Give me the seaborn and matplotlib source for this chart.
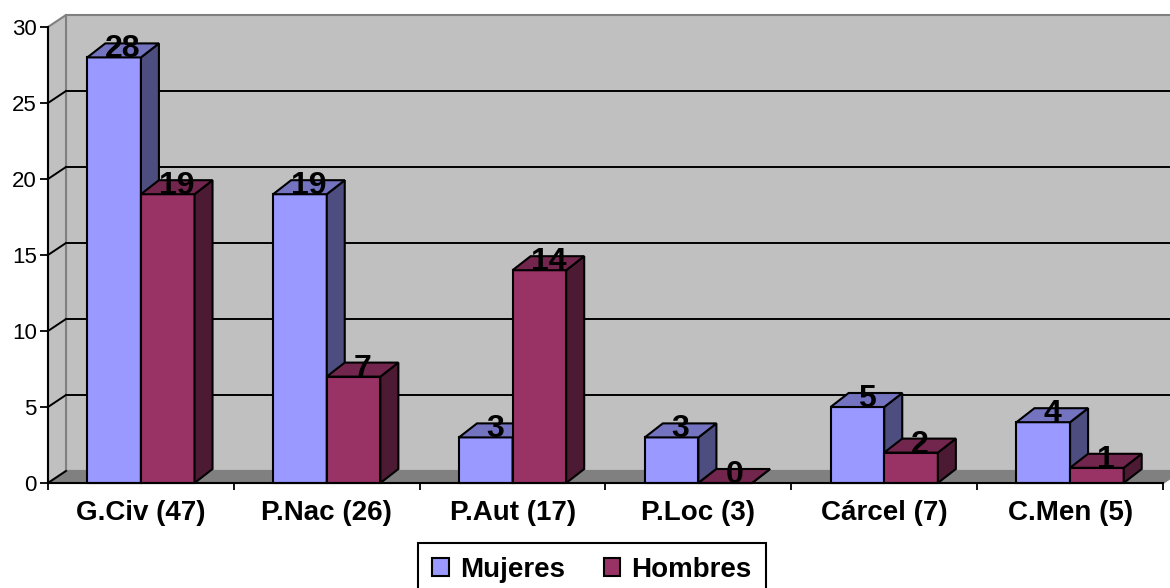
import pandas as pd
import seaborn as sns
import matplotlib.pyplot as plt
from matplotlib.patches import Polygon

# datos del grafico
categorias = ['G.Civ (47)', 'P.Nac (26)', 'P.Aut (17)', 'P.Loc (3)', 'Cárcel (7)', 'C.Men (5)']
mujeres = [28, 19, 3, 3, 5, 4]
hombres = [19, 7, 14, 0, 2, 1]
series = ['Mujeres', 'Hombres']
ticks_y = [0, 5, 10, 15, 20, 25, 30]

plt.rcParams['font.family'] = ['Liberation Sans', 'DejaVu Sans']

df = pd.DataFrame({
    'cat': categorias * 2,
    'valor': mujeres + hombres,
    'sexo': ['Mujeres'] * len(categorias) + ['Hombres'] * len(categorias),
})

colores = {'Mujeres': '#9999FF', 'Hombres': '#993366'}
lados = {'Mujeres': '#4D4D80', 'Hombres': '#4D1A33'}
techos = {'Mujeres': '#7373C0', 'Hombres': '#73264D'}

fig = plt.figure(figsize=(11.7, 5.88), dpi=100)
ax = fig.add_axes([48 / 1170, 105 / 588, 1115 / 1170, 456 / 588])
ax.set_xlim(-0.5, 5.5)
ax.set_ylim(0, 30)
ax.patch.set_visible(False)

# profundidad en unidades de datos (desde pixeles)
px_x = 6 / 1115
px_y = 30 / 456
ddx, ddy = 18 * px_x, 12 * px_y      # paredes
bdx, bdy = 18 * px_x, 14 * px_y      # barras

# pared del fondo, pared izquierda y suelo
pared = Polygon([(-0.5 + ddx, ddy), (5.5 + ddx, ddy), (5.5 + ddx, 30 + ddy), (-0.5 + ddx, 30 + ddy)],
                closed=True, fc='#C0C0C0', ec='#808080', lw=1.5, clip_on=False, zorder=0)
ax.add_patch(pared)
izq = Polygon([(-0.5, 0), (-0.5, 30), (-0.5 + ddx, 30 + ddy), (-0.5 + ddx, ddy)],
              closed=True, fc='#C0C0C0', ec='#808080', lw=1.5, clip_on=False, zorder=0.5)
ax.add_patch(izq)
suelo = Polygon([(-0.5, 0), (5.5, 0), (5.5 + ddx, ddy), (-0.5 + ddx, ddy)],
                closed=True, fc='#808080', ec='#808080', lw=1.5, clip_on=False, zorder=0.6)
ax.add_patch(suelo)

for v in ticks_y[1:-1]:
    ax.plot([-0.5 + ddx, 5.5 + ddx], [v + ddy, v + ddy], color='black', lw=1.4,
            clip_on=False, zorder=1)
for v in ticks_y[:-1]:
    ax.plot([-0.5, -0.5 + ddx], [v, v + ddy], color='black', lw=1.4, clip_on=False, zorder=1)

sns.barplot(data=df, x='cat', y='valor', hue='sexo', palette=colores, hue_order=series,
            width=0.577, saturation=1, edgecolor='black', linewidth=1.5, ax=ax)

# caras laterales y superiores de cada barra
for i, cont in enumerate(ax.containers):
    nombre = series[i]
    z = 3 + i
    for rect in cont:
        x, w, h = rect.get_x(), rect.get_width(), rect.get_height()
        rect.set_zorder(z)
        rect.set_clip_on(False)
        lado = Polygon([(x + w, 0), (x + w, h), (x + w + bdx, h + bdy), (x + w + bdx, bdy)],
                       closed=True, fc=lados[nombre], ec='black', lw=1.5, zorder=z, clip_on=False)
        techo = Polygon([(x, h), (x + w, h), (x + w + bdx, h + bdy), (x + bdx, h + bdy)],
                        closed=True, fc=techos[nombre], ec='black', lw=1.5, zorder=z, clip_on=False)
        ax.add_patch(lado)
        ax.add_patch(techo)
        ax.text(x + w / 2 + bdx / 2, h, f'{h:.0f}', ha='center', va='baseline',
                fontsize=23, fontweight='bold', zorder=10)

# ejes
ax.set_xlabel('')
ax.set_ylabel('')
ax.set_yticks(ticks_y)
ax.tick_params(axis='y', direction='out', length=6, width=1.3, labelsize=16, pad=2)
ax.set_xticks(range(len(categorias)))
ax.set_xticklabels(categorias, fontsize=20, fontweight='bold')
ax.set_xticks([i - 0.5 for i in range(len(categorias) + 1)], minor=True)
ax.tick_params(axis='x', which='major', length=0, pad=12)
ax.tick_params(axis='x', which='minor', direction='out', length=5, width=1.3)
for s in ['top', 'right']:
    ax.spines[s].set_visible(False)
for s in ['left', 'bottom']:
    ax.spines[s].set_linewidth(1.5)
    ax.spines[s].set_color('black')
    ax.spines[s].set_zorder(8)

sns.move_legend(ax, loc='upper center', bbox_to_anchor=(592 / 1170, 45 / 588),
                bbox_transform=fig.transFigure, ncol=2, title=None, frameon=True,
                fancybox=False, edgecolor='black', framealpha=1, borderaxespad=0,
                prop={'size': 20, 'weight': 'bold'}, handlelength=0.6, handleheight=0.6,
                handletextpad=0.4, columnspacing=1.4, borderpad=0.5)
ax.get_legend().get_frame().set_linewidth(1.5)

fig.savefig('out.png', dpi=100)
